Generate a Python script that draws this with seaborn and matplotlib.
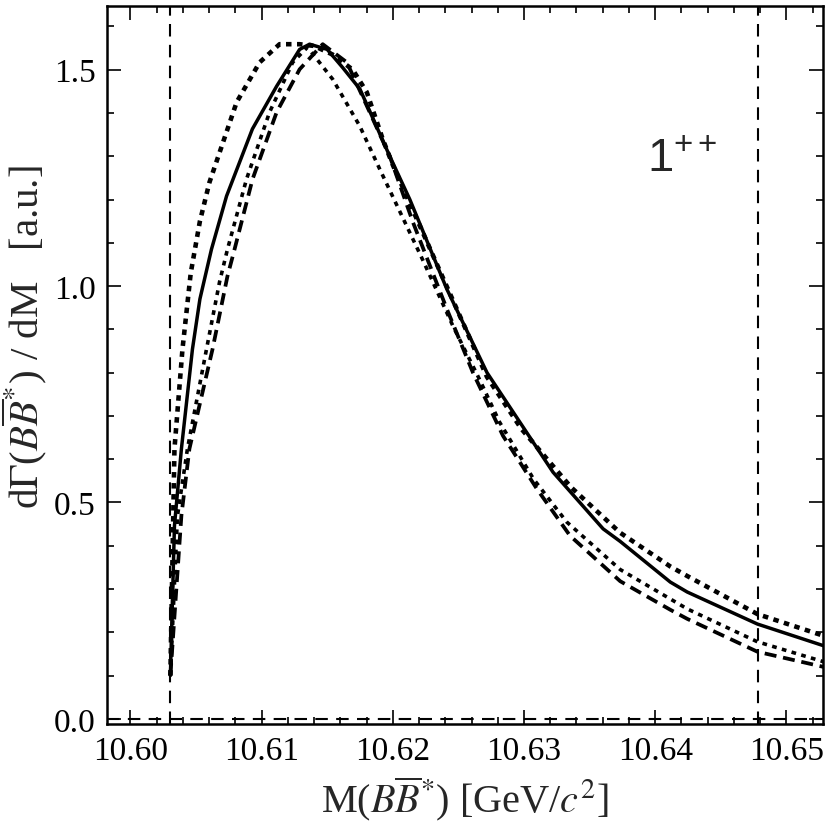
import matplotlib
matplotlib.use("Agg")
import matplotlib.pyplot as plt
from matplotlib.ticker import MultipleLocator, FormatStrFormatter
import seaborn as sns

# curve values (M in GeV/c^2, dGamma/dM in a.u.)
m_solid = [10.60305, 10.60336, 10.60389, 10.60473, 10.6053, 10.60618, 10.60733, 10.6093,
           10.61115, 10.6129, 10.61366, 10.6150, 10.61618, 10.6175, 10.61977, 10.6213,
           10.62412, 10.62718, 10.63221, 10.63603, 10.63733, 10.64115, 10.64244, 10.64779, 10.65282]
v_solid = [0.10, 0.446, 0.624, 0.854, 0.97, 1.085, 1.208, 1.363,
           1.462, 1.547, 1.559, 1.547, 1.505, 1.455, 1.300, 1.20,
           0.993, 0.80, 0.57, 0.439, 0.41, 0.316, 0.293, 0.219, 0.169]

m_wide = [10.60305, 10.60336, 10.60397, 10.6046, 10.6053, 10.60603, 10.6081, 10.60985, 10.61137,
          10.6129, 10.6140, 10.61542, 10.61695, 10.61802, 10.61924, 10.6200, 10.6241,
          10.62718, 10.6298, 10.63359, 10.63733, 10.64115, 10.64244, 10.64779, 10.65282]
v_wide = [0.10, 0.624, 0.854, 1.03, 1.15, 1.24, 1.425, 1.517, 1.559,
          1.559, 1.555, 1.535, 1.50, 1.448, 1.339, 1.28, 1.00,
          0.79, 0.67, 0.535, 0.43, 0.352, 0.33, 0.242, 0.192]

m_dot = [10.60305, 10.60359, 10.60435, 10.6058, 10.6068, 10.6074, 10.60885, 10.61061,
         10.61237, 10.6135, 10.61542, 10.61748, 10.61901, 10.62229, 10.62458, 10.6266,
         10.62813, 10.63073, 10.63325, 10.63733, 10.64115, 10.64244, 10.64779, 10.65282]
v_dot = [0.10, 0.469, 0.624, 0.854, 1.01, 1.085, 1.247, 1.402,
         1.517, 1.552, 1.478, 1.37, 1.27, 1.06, 0.908, 0.785,
         0.686, 0.554, 0.455, 0.345, 0.277, 0.254, 0.178, 0.132]

m_dash = [10.60305, 10.60389, 10.6045, 10.60626, 10.6074, 10.60794, 10.60931, 10.61115,
          10.6129, 10.61466, 10.6165, 10.61824, 10.61977, 10.62153, 10.62412, 10.62611,
          10.6284, 10.63099, 10.63351, 10.63733, 10.64115, 10.64244, 10.64779, 10.65282]
v_dash = [0.10, 0.47, 0.624, 0.854, 1.023, 1.085, 1.247, 1.402,
          1.501, 1.559, 1.517, 1.402, 1.300, 1.148, 0.947, 0.80,
          0.654, 0.531, 0.423, 0.318, 0.252, 0.231, 0.155, 0.120]

thresholds = [10.6030, 10.6478]
x_lim = (10.5982, 10.6528)
y_lim = (-0.012, 1.647)

sns.set_style("ticks")
plt.rcParams['font.family'] = ['Liberation Serif', 'DejaVu Serif']
plt.rcParams['mathtext.fontset'] = 'stix'

fig = plt.figure(figsize=(8.34, 8.28), dpi=100)
ax = fig.add_axes([0.128, 0.1244, 0.859, 0.867])

for xv in thresholds:
    ax.axvline(xv, color='black', lw=1.5, linestyle=(0, (6, 4)), zorder=1)
ax.axhline(0.0, color='black', lw=1.5, linestyle=(0, (6, 4)), zorder=1)

sns.lineplot(x=m_wide, y=v_wide, ax=ax, color='black', lw=3.3,
             linestyle=(0, (1.2, 1.2)), estimator=None, sort=False)
sns.lineplot(x=m_solid, y=v_solid, ax=ax, color='black', lw=2.5,
             estimator=None, sort=False)
sns.lineplot(x=m_dot, y=v_dot, ax=ax, color='black', lw=2.6,
             linestyle=(0, (1.3, 1.5)), estimator=None, sort=False)
sns.lineplot(x=m_dash, y=v_dash, ax=ax, color='black', lw=2.7,
             linestyle=(0, (3.2, 1.8)), estimator=None, sort=False)

ax.set_xlim(*x_lim)
ax.set_ylim(*y_lim)

ax.xaxis.set_major_locator(MultipleLocator(0.01))
ax.xaxis.set_minor_locator(MultipleLocator(0.002))
ax.yaxis.set_major_locator(MultipleLocator(0.5))
ax.yaxis.set_minor_locator(MultipleLocator(0.1))
ax.xaxis.set_major_formatter(FormatStrFormatter('%.2f'))
ax.yaxis.set_major_formatter(FormatStrFormatter('%.1f'))

ax.tick_params(which='both', direction='in', top=True, right=True, width=1.2,
               labelsize=24, colors='black')
ax.tick_params(which='major', length=10, pad=8)
ax.tick_params(which='minor', length=5)
for s in ax.spines.values():
    s.set_linewidth(1.8)
    s.set_color('black')

ax.set_xlabel(r'M($B\overline{B}^{*}$) [GeV/$c^2$]', fontsize=29, labelpad=6)
ax.set_ylabel(r'd$\Gamma$($B\overline{B}^{*}$) / dM   [a.u.]', fontsize=29.5, labelpad=2)
ax.yaxis.set_label_coords(-0.081, 0.54)

ax.text(10.6394, 1.266, r'$\mathregular{1^{++}}$', fontsize=34,
        family='Liberation Sans', va='baseline', ha='left')

fig.savefig('out.png', dpi=100)
